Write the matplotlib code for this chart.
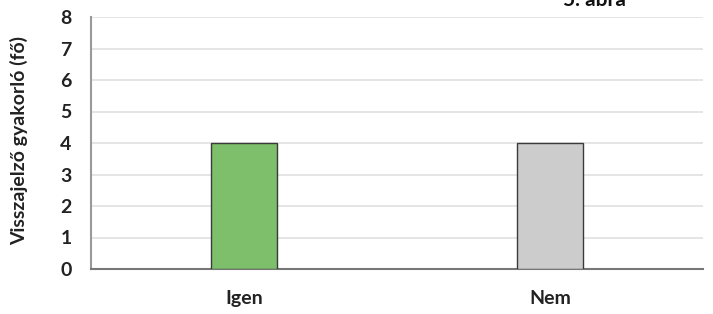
import matplotlib
matplotlib.use("Agg")
import matplotlib.pyplot as plt

categories = ["Igen", "Nem"]
values = [4, 4]
colors = ["#7dbf6a", "#cccccc"]
yticks = [0, 1, 2, 3, 4, 5, 6, 7, 8]

plt.rcParams['font.family'] = ['Lato', 'DejaVu Sans']

fig = plt.figure(figsize=(7.13, 3.14), dpi=100)
ax = fig.add_axes([91/713, 1-269/314, (703-91)/713, (269-17)/314])

x = list(range(len(categories)))
ax.bar(x, values, width=0.216, color=colors, edgecolor="#3a3a3a", linewidth=1.0, zorder=3)
ax.set_xlim(-0.5, 1.5)
ax.set_ylim(0, 8)
ax.set_yticks(yticks)
ax.set_yticklabels([str(t) for t in yticks], fontsize=14, fontweight='bold', color="#222222")
ax.set_xticks(x)
ax.set_xticklabels(categories, fontsize=14, fontweight='bold', color="#222222")
ax.tick_params(axis='x', length=0, pad=15)
ax.tick_params(axis='y', length=0, pad=14)
ax.grid(axis='y', color="#e3e3e3", linewidth=1.3, zorder=0)
for s in ["top", "right"]:
    ax.spines[s].set_visible(False)
ax.spines["left"].set_color("#999999")
ax.spines["left"].set_linewidth(1.5)
ax.spines["bottom"].set_color("#777777")
ax.spines["bottom"].set_linewidth(1.5)
ax.set_ylabel("Visszajelző gyakorló (fő)", fontsize=14, fontweight='bold', color="#222222")
ax.yaxis.set_label_coords(-0.103, 0.51)

fig.text(594/713, 1.0, "5. ábra", fontsize=15, fontweight='bold', ha='center', va='center', color="#111111")

fig.savefig("out.png", dpi=100)
